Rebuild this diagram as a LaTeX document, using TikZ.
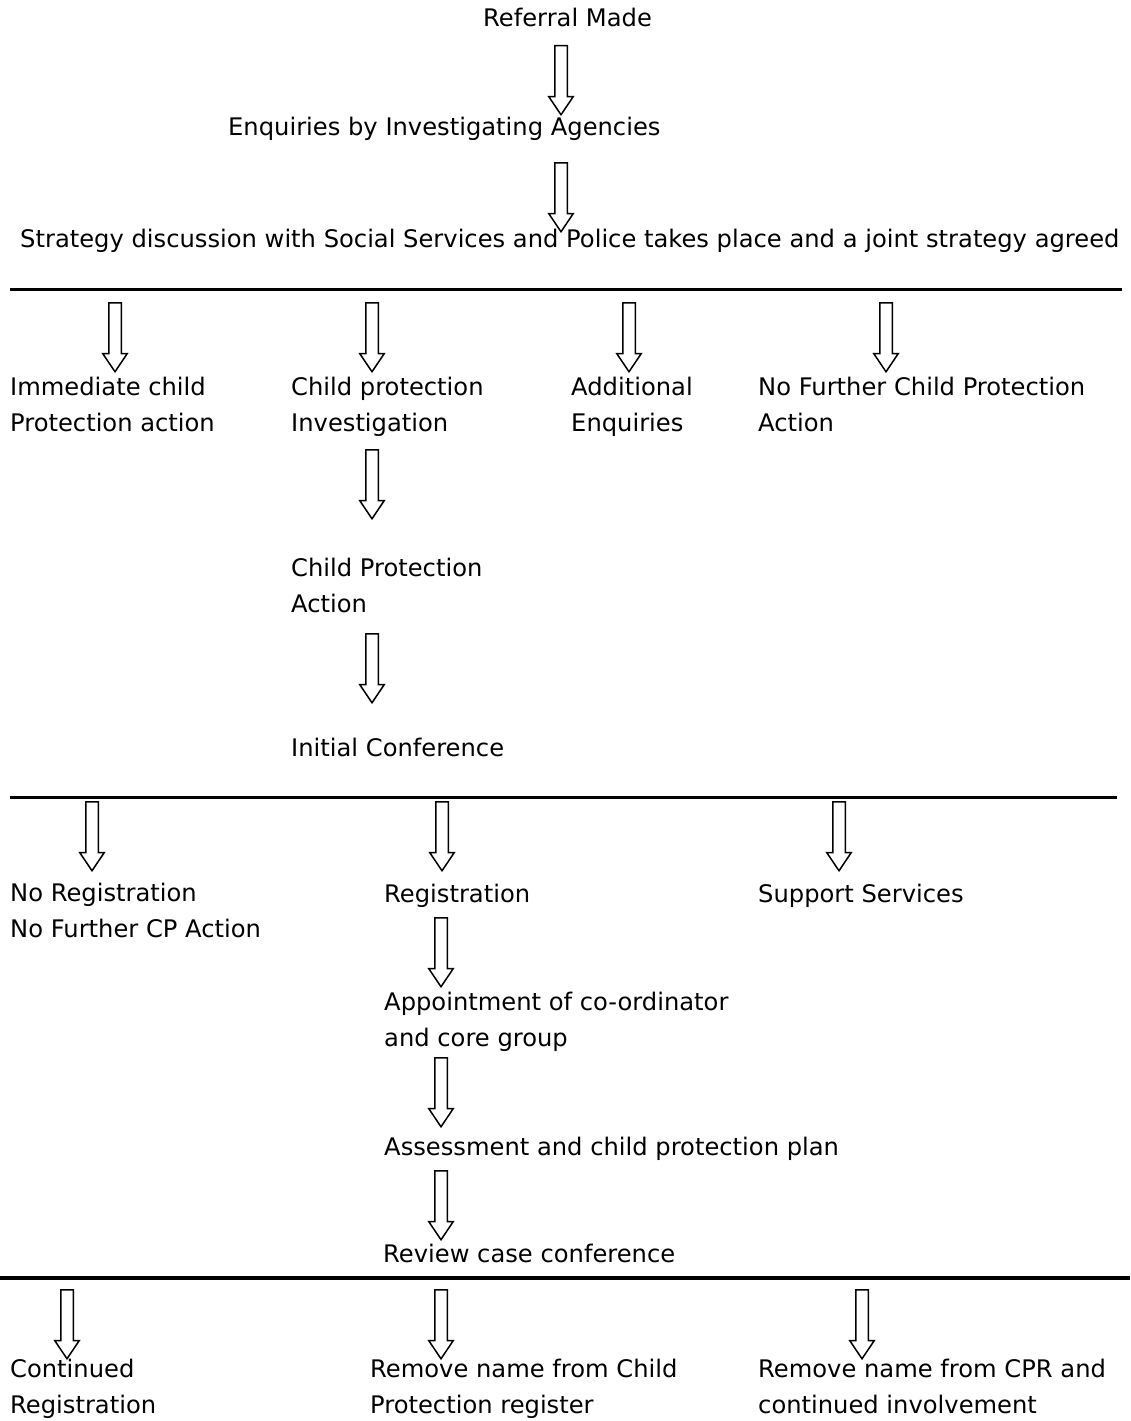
\documentclass[tikz,border=0pt]{standalone}
\usepackage{fontspec}
\setmainfont{DejaVu Sans}
\usetikzlibrary{positioning,shapes.arrows}

\begin{document}
\begin{tikzpicture}[x=1pt,y=-1pt,
    txt/.style={anchor=base west, inner sep=0pt, align=left,
        font=\fontsize{24.2}{35.5}\selectfont},
    downarrow/.style={single arrow, draw, line width=1.5pt, rotate=-90,
        anchor=tail, inner xsep=0pt, inner ysep=5.5pt, minimum height=69pt,
        single arrow head extend=6pt, single arrow tip angle=68,
        single arrow head indent=0pt},
    divider/.style={line width=3pt}]
    \useasboundingbox (0,0) rectangle (1130,1421);

    % top of the procedure
    \node[txt] (referral) at (483,27) {Referral Made};
    \node[downarrow] (a1) at (561,45) {};
    \node[txt] (enquiries) at (228,135) {Enquiries by Investigating Agencies};
    \node[downarrow] (a2) at (561,162) {};
    \node[txt] (strategy) at (20,247) {Strategy discussion with Social Services and Police takes place and a joint strategy agreed};
    \draw[divider] (10,289) -- (1122,289);

    % outcomes of the strategy discussion (base = last line)
    \node[downarrow] (b1) at (115,302) {};
    \node[downarrow] (b2) at (372,302) {};
    \node[downarrow] (b3) at (629,302) {};
    \node[downarrow] (b4) at (886,302) {};
    \node[txt] (immediate) at (10,431) {Immediate child\\Protection action};
    \node[txt] (cpinvest) at (291,431) {Child protection\\Investigation};
    \node[txt] (additional) at (571,431) {Additional\\Enquiries};
    \node[txt] (nofurther) at (758,431) {No Further Child Protection\\Action};
    \node[downarrow] (c1) at (372,449) {};
    \node[txt] (cpaction) at (291,612) {Child Protection\\Action};
    \node[downarrow] (c2) at (372,633) {};
    \node[txt] (initconf) at (291,756) {Initial Conference};
    \draw[divider] (10,797) -- (1117,797);

    % outcomes of the initial conference
    \node[downarrow] (d1) at (92,801) {};
    \node[downarrow] (d2) at (442,801) {};
    \node[downarrow] (d3) at (839,801) {};
    \node[txt] (noreg) at (10,937) {No Registration\\No Further CP Action};
    \node[txt] (registration) at (384,902) {Registration};
    \node[txt] (support) at (758,902) {Support Services};
    \node[downarrow] (e1) at (441,917) {};
    \node[txt] (appoint) at (384,1046) {Appointment of co-ordinator\\and core group};
    \node[downarrow] (e2) at (441,1057) {};
    \node[txt] (assess) at (384,1155) {Assessment and child protection plan};
    \node[downarrow] (e3) at (441,1170) {};
    \node[txt] (review) at (383,1262) {Review case conference};
    \draw[divider, line width=4.5pt] (0,1278) -- (1130,1278);

    % outcomes of the review
    \node[downarrow] (f1) at (67,1289) {};
    \node[downarrow] (f2) at (441,1289) {};
    \node[downarrow] (f3) at (862,1289) {};
    \node[txt] (continued) at (10,1413) {Continued\\Registration};
    \node[txt] (removecp) at (370,1413) {Remove name from Child\\Protection register};
    \node[txt] (removecpr) at (758,1413) {Remove name from CPR and\\continued involvement};
\end{tikzpicture}
\end{document}
